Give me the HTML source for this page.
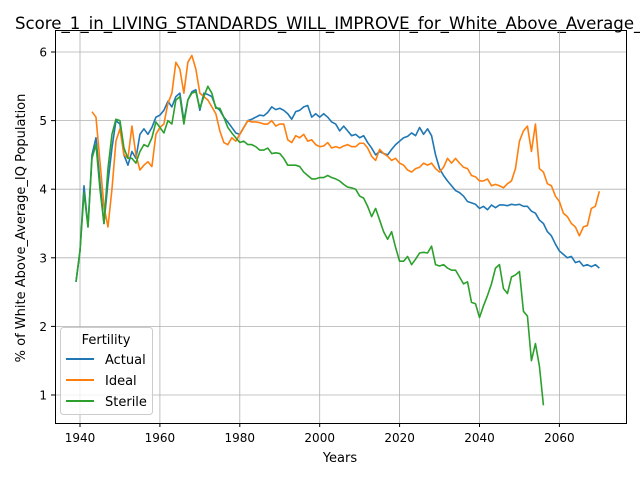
<!DOCTYPE html>
<html><head><meta charset="utf-8"><style>
body{margin:0;background:#fff;}
svg{display:block;font-family:"DejaVu Sans","Liberation Sans",sans-serif;}
</style></head><body>
<svg id="chart" width="640" height="480" viewBox="0 0 640 480" xmlns="http://www.w3.org/2000/svg">
<rect width="640" height="480" fill="#fff"/>
<text x="15" y="29" font-size="16.6" fill="#000">Score_1_in_LIVING_STANDARDS_WILL_IMPROVE_for_White_Above_Average_IQ</text>
<g id="grid"></g>
<g id="series"></g>
<rect x="55.5" y="30.5" width="571" height="393" fill="none" stroke="#000" stroke-width="1"/>
<g id="ticks"></g>
<text x="340" y="462" font-size="13" text-anchor="middle">Years</text>
<text transform="translate(25,228) rotate(-90)" font-size="13" text-anchor="middle">% of White Above_Average_IQ Population</text>
<g>
<rect x="60.5" y="327.5" width="92" height="87" rx="3" fill="#fff" fill-opacity="0.8" stroke="#ccc"/>
<text x="106" y="344" font-size="13" text-anchor="middle">Fertility</text>
<g><line x1="66" x2="94" y1="359" y2="359" stroke="#1f77b4" stroke-width="2"/><text x="105" y="364" font-size="13">Actual</text></g>
<g><line x1="66" x2="94" y1="380" y2="380" stroke="#ff7f0e" stroke-width="2"/><text x="105" y="385" font-size="13">Ideal</text></g>
<g><line x1="66" x2="94" y1="401" y2="401" stroke="#2ca02c" stroke-width="2"/><text x="105" y="406" font-size="13">Sterile</text></g>
</g>
</svg>
<script>
const actualStart = 1939;
const actualValues = [2.65,3.1,4.05,3.45,4.5,4.75,4.1,3.5,4.1,4.6,
5.0,4.95,4.5,4.35,4.55,4.45,4.8,4.88,4.8,4.9,
5.05,5.08,5.15,5.28,5.2,5.35,5.4,5.0,5.3,5.42,
5.45,5.15,5.4,5.38,5.35,5.2,5.15,5.05,4.98,4.9,
4.82,4.8,4.9,5.0,5.02,5.05,5.08,5.07,5.12,5.2,
5.16,5.18,5.15,5.1,5.02,5.13,5.15,5.2,5.22,5.05,
5.1,5.05,5.1,5.05,4.98,4.95,4.85,4.92,4.85,4.78,
4.8,4.75,4.78,4.68,4.6,4.5,4.55,4.52,4.5,4.58,
4.65,4.7,4.75,4.77,4.82,4.78,4.9,4.8,4.88,4.78,
4.5,4.3,4.2,4.12,4.05,3.98,3.95,3.9,3.82,3.8,
3.78,3.72,3.75,3.7,3.77,3.73,3.77,3.77,3.76,3.78,
3.77,3.78,3.75,3.75,3.68,3.65,3.55,3.5,3.38,3.32,
3.2,3.1,3.05,3.0,3.02,2.93,2.95,2.88,2.9,2.87,
2.9,2.85];
const idealStart = 1943;
const idealValues = [5.13,5.05,4.4,3.75,3.45,4.0,4.7,4.88,4.5,4.45,
4.92,4.5,4.28,4.35,4.4,4.33,4.8,4.9,4.95,5.25,
5.4,5.85,5.75,5.4,5.85,5.95,5.75,5.4,5.35,5.3,
5.2,5.1,4.85,4.68,4.65,4.75,4.7,4.8,4.9,5.0,
4.98,4.98,4.97,4.95,4.95,5.0,4.92,4.95,4.95,4.72,
4.68,4.78,4.75,4.8,4.7,4.72,4.65,4.62,4.63,4.68,
4.6,4.62,4.6,4.63,4.65,4.62,4.62,4.67,4.67,4.6,
4.48,4.42,4.58,4.52,4.48,4.42,4.45,4.38,4.35,4.28,
4.25,4.3,4.32,4.38,4.35,4.38,4.3,4.25,4.32,4.45,
4.38,4.45,4.38,4.32,4.3,4.2,4.18,4.12,4.12,4.15,
4.05,4.07,4.05,4.02,4.08,4.12,4.3,4.7,4.85,4.92,
4.55,4.95,4.3,4.25,4.08,4.05,3.9,3.82,3.65,3.6,
3.5,3.45,3.32,3.45,3.47,3.72,3.75,3.97];
const sterileStart = 1939;
const sterileValues = [2.65,3.1,3.95,3.45,4.45,4.65,4.0,3.5,4.3,4.8,
5.02,5.0,4.6,4.45,4.45,4.38,4.55,4.65,4.62,4.75,
4.98,4.9,4.82,5.0,4.95,5.3,5.35,4.95,5.3,5.4,
5.42,5.18,5.35,5.5,5.4,5.18,5.18,5.05,4.9,4.82,
4.75,4.68,4.7,4.65,4.65,4.62,4.57,4.57,4.6,4.52,
4.53,4.52,4.45,4.35,4.35,4.35,4.33,4.25,4.2,4.15,
4.15,4.17,4.17,4.2,4.17,4.15,4.12,4.07,4.03,4.02,
4.0,3.9,3.87,3.75,3.6,3.72,3.55,3.38,3.27,3.38,
3.15,2.95,2.95,3.02,2.9,2.98,3.07,3.08,3.07,3.17,
2.9,2.88,2.9,2.85,2.82,2.82,2.72,2.62,2.65,2.35,
2.33,2.13,2.3,2.45,2.62,2.85,2.9,2.55,2.48,2.72,
2.75,2.8,2.22,2.15,1.5,1.75,1.42,0.85];
const xTicks = [1940,1960,1980,2000,2020,2040,2060];
const yTicks = [1,2,3,4,5,6];

function xScale(yr){ return 80 + (yr - 1940) * 3.995; }
function yScale(v){ return 395 - (v - 1) * 68.6; }

const NS = "http://www.w3.org/2000/svg";
const grid = document.getElementById('grid');
const ticks = document.getElementById('ticks');
xTicks.forEach(t => {
  const x = xScale(t);
  const g = document.createElementNS(NS,'line');
  g.setAttribute('x1',x);g.setAttribute('x2',x);g.setAttribute('y1',30);g.setAttribute('y2',423);
  g.setAttribute('stroke','#b0b0b0');g.setAttribute('stroke-width','0.8');
  
  
  grid.appendChild(g);
  const tk = document.createElementNS(NS,'line');
  tk.setAttribute('x1',x);tk.setAttribute('x2',x);tk.setAttribute('y1',423);tk.setAttribute('y2',427);
  tk.setAttribute('stroke','#000');
  
  
  ticks.appendChild(tk);
  const tx = document.createElementNS(NS,'text');
  tx.setAttribute('x',x);tx.setAttribute('y',442);tx.setAttribute('font-size','12');tx.setAttribute('text-anchor','middle');
  tx.textContent = t;
  
  
  ticks.appendChild(tx);
});
yTicks.forEach(t => {
  const y = yScale(t);
  const g = document.createElementNS(NS,'line');
  g.setAttribute('x1',55);g.setAttribute('x2',626);g.setAttribute('y1',y);g.setAttribute('y2',y);
  g.setAttribute('stroke','#b0b0b0');g.setAttribute('stroke-width','0.8');
  
  
  grid.appendChild(g);
  const tk = document.createElementNS(NS,'line');
  tk.setAttribute('x1',51);tk.setAttribute('x2',55);tk.setAttribute('y1',y);tk.setAttribute('y2',y);
  tk.setAttribute('stroke','#000');
  
  
  ticks.appendChild(tk);
  const tx = document.createElementNS(NS,'text');
  tx.setAttribute('x',47);tx.setAttribute('y',y+4.5);tx.setAttribute('font-size','12');tx.setAttribute('text-anchor','end');
  tx.textContent = t;
  
  
  ticks.appendChild(tx);
});

const series = document.getElementById('series');
function drawLine(start, vals, color, name){
  const pts = vals.map((v,i) => xScale(start + i).toFixed(2) + ',' + yScale(v).toFixed(2)).join(' ');
  const pl = document.createElementNS(NS,'polyline');
  pl.setAttribute('points', pts);
  pl.setAttribute('fill','none');pl.setAttribute('stroke',color);pl.setAttribute('stroke-width','1.6');
  pl.setAttribute('stroke-linejoin','round');
  
  
  series.appendChild(pl);
}
drawLine(actualStart, actualValues, '#1f77b4', 'actual-line');
drawLine(idealStart, idealValues, '#ff7f0e', 'ideal-line');
drawLine(sterileStart, sterileValues, '#2ca02c', 'sterile-line');
</script>
</body></html>
